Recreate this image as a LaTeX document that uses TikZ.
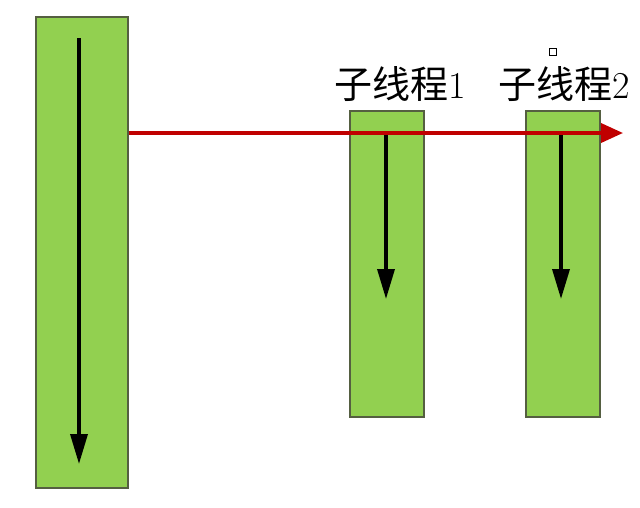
\documentclass[tikz,border=0pt]{standalone}
\usepackage{fontspec}
\newfontfamily\cjk{Noto Sans CJK SC}
\usetikzlibrary{arrows.meta,positioning}
\definecolor{bargreen}{RGB}{146,208,80}
\definecolor{bardraw}{RGB}{85,95,65}
\definecolor{flowred}{RGB}{192,0,0}

\begin{document}
\begin{tikzpicture}[x=1pt, y=-1pt,
    bar/.style={draw=bardraw, line width=1.5pt, fill=bargreen, rectangle, inner sep=0pt, anchor=north west},
    flow/.style={line width=3.5pt, -{Triangle[length=30pt,width=17pt]}},
    spawn/.style={line width=3.5pt, flowred, -{Triangle[length=22pt,width=19pt]}},
    every node/.style={font=\fontsize{38}{42}\selectfont, inner sep=0pt}]
      \useasboundingbox (0,0) rectangle (640,507);
      % threads
      \node[bar, minimum width=92pt, minimum height=471pt] (main) at (35,16) {};
      \node[bar, minimum width=74pt, minimum height=306pt] (sub1) at (349,110) {};
      \node[bar, minimum width=74pt, minimum height=306pt] (sub2) at (525,110) {};
      \node (lab1) at (400,84) {{\cjk 子线程}1};
      \node (lab2) at (564,84) {{\cjk 子线程}2};
      % flow inside each thread
      \coordinate (m0) at (79,38);   \coordinate (m1) at (79,464);
      \coordinate (a0) at (386,133); \coordinate (a1) at (386,299);
      \coordinate (b0) at (561,133); \coordinate (b1) at (561,299);
      \draw[flow] (m0) -- (m1);
      \draw[flow] (a0) -- (a1);
      \draw[flow] (b0) -- (b1);
      % spawning line
      \coordinate (r1) at (623,133);
      \draw[spawn] (main.east |- a0) -- (r1);
      \draw[line width=0.8pt] (549,48) rectangle (556,55);
\end{tikzpicture}
\end{document}
